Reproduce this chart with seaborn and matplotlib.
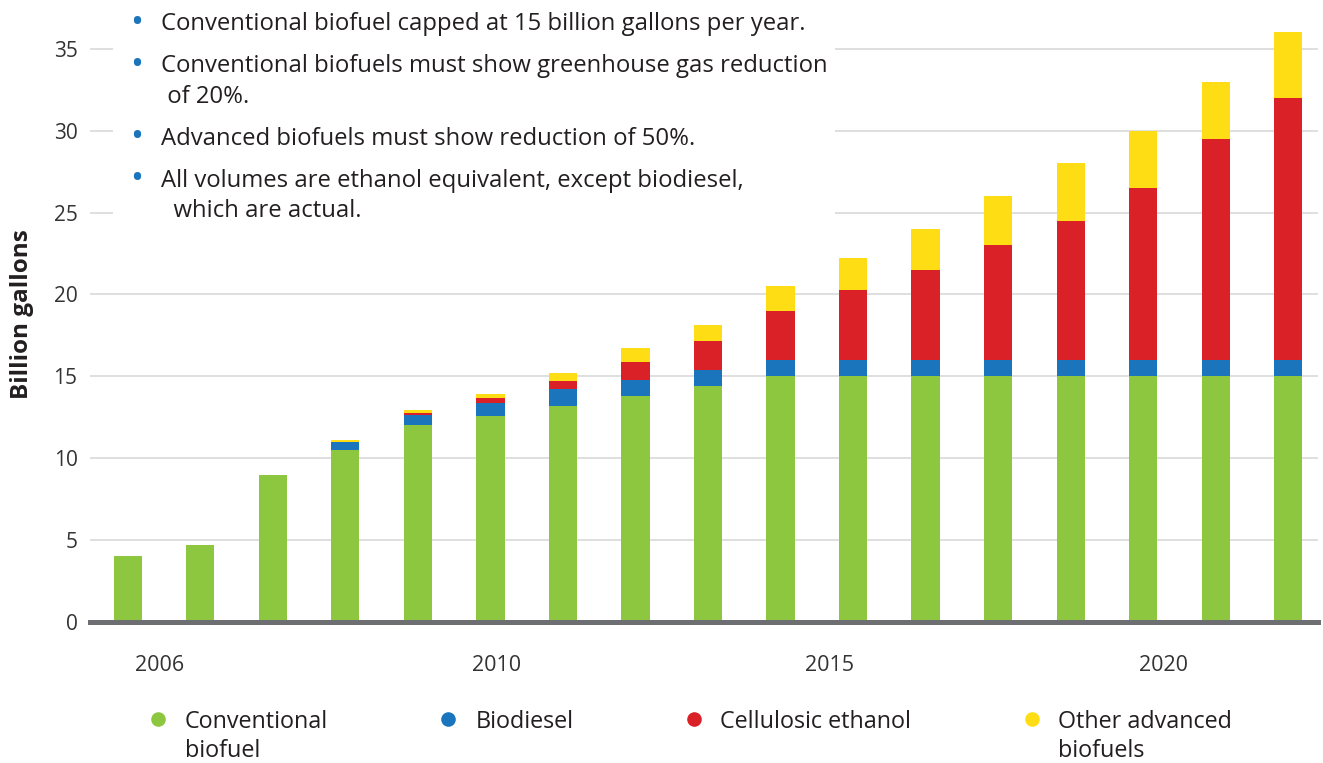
import numpy as np
import seaborn as sns
import matplotlib.pyplot as plt
from matplotlib.lines import Line2D
from matplotlib.patches import Rectangle

sns.set_style('white')
plt.rcParams['font.family'] = ['Open Sans', 'DejaVu Sans']

# data (billion gallons, ethanol equivalent)
years = [str(y) for y in range(2006, 2023)]
conventional = [4.0, 4.7, 9.0, 10.5, 12.0, 12.6, 13.2, 13.8, 14.4,
                15.0, 15.0, 15.0, 15.0, 15.0, 15.0, 15.0, 15.0]
biodiesel = [0, 0, 0, 0.5, 0.65, 0.8, 1.0, 1.0, 1.0,
             1.0, 1.0, 1.0, 1.0, 1.0, 1.0, 1.0, 1.0]
cellulosic = [0, 0, 0, 0, 0.1, 0.25, 0.5, 1.1, 1.75,
              3.0, 4.25, 5.5, 7.0, 8.5, 10.5, 13.5, 16.0]
other_adv = [0, 0, 0, 0.1, 0.2, 0.3, 0.5, 0.8, 1.0,
             1.5, 2.0, 2.5, 3.0, 3.5, 3.5, 3.5, 4.0]

tick_pos = [0.44, 5.08, 9.68, 14.28]
tick_labels = ['2006', '2010', '2015', '2020']

series_names = ['Conventional\nbiofuel', 'Biodiesel\n ', 'Cellulosic ethanol\n ', 'Other advanced\nbiofuels']
colors = ['#8dc63f', '#1a75bc', '#da2128', '#ffdd15']

notes = [
    ('Conventional biofuel capped at 15 billion gallons per year.', True),
    ('Conventional biofuels must show greenhouse gas reduction', True),
    (' of 20%.', False),
    ('Advanced biofuels must show reduction of 50%.', True),
    ('All volumes are ethanol equivalent, except biodiesel,', True),
    ('  which are actual.', False),
]

#%%
W, H = 1323, 763
fig = plt.figure(figsize=(W / 100, H / 100), dpi=100)
ax = fig.add_axes([90 / W, 1 - 622 / H, 1228 / W, 615 / H])

layers = np.cumsum([conventional, biodiesel, cellulosic, other_adv], axis=0)
for heights, col in zip(layers[::-1], colors[::-1]):
    sns.barplot(x=years, y=heights, color=col, width=0.39, saturation=1,
                linewidth=0, ax=ax)

ax.set_xlim(-0.52, 16.41)
ax.set_ylim(0, 37.55)
ax.set_yticks(range(0, 36, 5))
ax.set_xticks(tick_pos)
ax.set_xticklabels(tick_labels)
ax.set_xlabel('')
ax.set_ylabel('')
ax.yaxis.grid(True, color='#dcdcdc', linewidth=1.3)
ax.set_axisbelow(True)
ax.tick_params(axis='y', length=0, pad=9, labelsize=15, labelcolor='#333333')
ax.tick_params(axis='x', length=0, pad=24, labelsize=15.5, labelcolor='#333333')
for s in ['left', 'right', 'top']:
    ax.spines[s].set_visible(False)
ax.spines['bottom'].set_color('#6d6e71')
ax.spines['bottom'].set_linewidth(3.6)

fig.text(22 / W, 1 - 314 / H, 'Billion gallons', rotation=90, ha='center',
         va='center', fontsize=17.5, fontweight='bold', color='#231f20')

# white box behind the notes
ax.add_patch(Rectangle((113 / W, 1 - 226 / H), 722 / W, 226 / H,
                       transform=fig.transFigure, facecolor='white',
                       edgecolor='none', zorder=3, clip_on=False))
baselines = [30.5, 72.5, 103, 145, 187, 217]
for (txt, bullet), yb in zip(notes, baselines):
    fig.text(161 / W, 1 - yb / H, txt, fontsize=17.2, color='#231f20',
             va='baseline', ha='left', zorder=5)
    if bullet:
        fig.text(137 / W, 1 - (yb - 7) / H, '\u2022', fontsize=25,
                 color='#1a75bc', va='center', ha='center', zorder=5)

handles = [Line2D([], [], marker='o', linestyle='none', markersize=10.5,
                  markerfacecolor=c, markeredgecolor='none') for c in colors]
leg = fig.legend(handles, series_names, loc='upper left',
                 bbox_to_anchor=(150 / W, 1 - 710 / H), ncol=4, frameon=False,
                 fontsize=16.8, handlelength=0.7, handletextpad=0.8,
                 columnspacing=4.8, borderpad=0, borderaxespad=0)
for t in leg.get_texts():
    t.set_color('#231f20')
    t.set_linespacing(1.3)
for h in leg.legend_handles:
    h.set_ydata(np.asarray(h.get_ydata()) + 13.5)

fig.savefig('out.png', dpi=100)
